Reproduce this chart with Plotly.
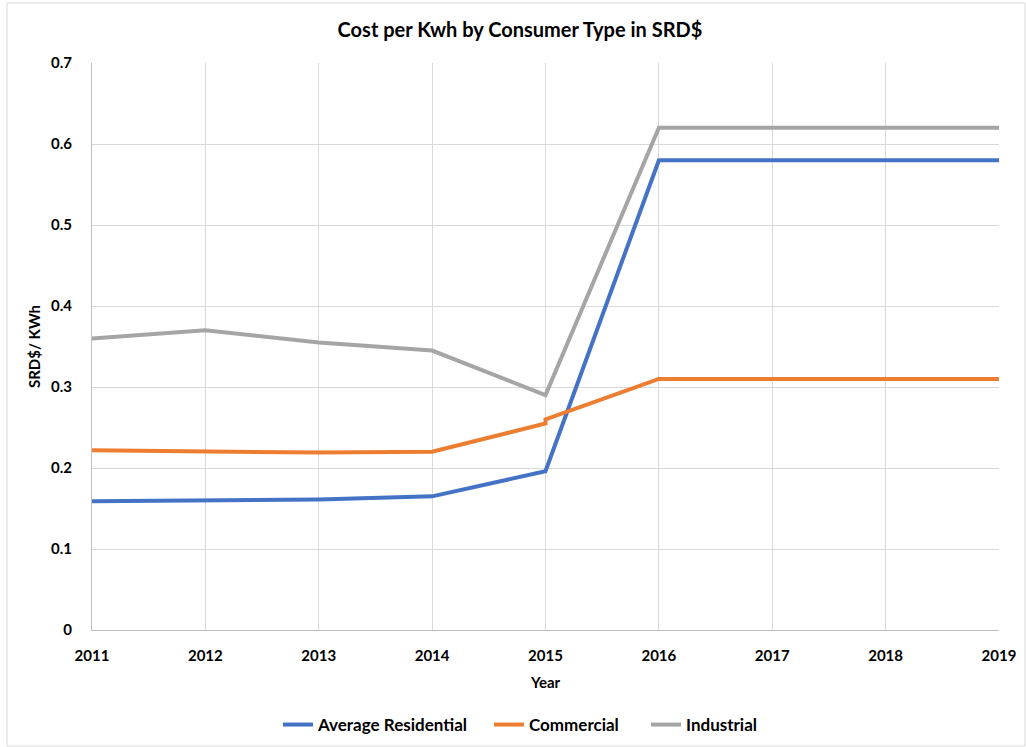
import plotly.graph_objects as go

years = [2011, 2012, 2013, 2014, 2015, 2016, 2017, 2018, 2019]
residential = [0.159, 0.160, 0.161, 0.165, 0.196, 0.58, 0.58, 0.58, 0.58]
# Commercial has two readings for 2015 (before/after the tariff change)
commercial_years = [2011, 2012, 2013, 2014, 2015, 2015, 2016, 2017, 2018, 2019]
commercial = [0.222, 0.220, 0.219, 0.220, 0.255, 0.260, 0.31, 0.31, 0.31, 0.31]
industrial = [0.36, 0.37, 0.355, 0.345, 0.29, 0.62, 0.62, 0.62, 0.62]
y_ticks = [0, 0.1, 0.2, 0.3, 0.4, 0.5, 0.6, 0.7]
y_tick_labels = ["0", "0.1", "0.2", "0.3", "0.4", "0.5", "0.6", "0.7"]

FONT = "Lato, Carlito, 'Open Sans', sans-serif"
PLOT_L, PLOT_W, PLOT_B, PLOT_H = 92, 907, 630, 567


def px_x(px):
    return (px - PLOT_L) / PLOT_W


fig = go.Figure()
fig.add_trace(go.Scatter(x=years, y=residential, mode="lines", name="<b>Average Residential</b>",
                         line=dict(color="#4472C4", width=4), legend="legend"))
fig.add_trace(go.Scatter(x=commercial_years, y=commercial, mode="lines", name="<b>Commercial</b>",
                         line=dict(color="#ED7D31", width=4), legend="legend2"))
fig.add_trace(go.Scatter(x=years, y=industrial, mode="lines", name="<b>Industrial</b>",
                         line=dict(color="#A5A5A5", width=4), legend="legend3"))

legend_common = dict(orientation="h", xanchor="left", y=-95 / PLOT_H, yanchor="middle",
                     font=dict(size=17, family=FONT), itemwidth=30,
                     bgcolor="rgba(0,0,0,0)", borderwidth=0)

fig.update_layout(
    width=1026, height=747,
    margin=dict(l=92, r=27, t=63, b=117, autoexpand=False),
    paper_bgcolor="white", plot_bgcolor="white",
    font=dict(family=FONT, color="#000000", size=15),
    title=dict(text="<b>Cost per Kwh by Consumer Type in SRD$</b>", x=520 / 1026, xanchor="center",
               y=1 - 30 / 747, yanchor="middle", font=dict(size=20, family=FONT)),
    showlegend=True,
    legend=dict(legend_common, x=px_x(283 - 5)),
    legend2=dict(legend_common, x=px_x(494 - 5)),
    legend3=dict(legend_common, x=px_x(651 - 5)),
    xaxis=dict(range=[2011, 2019], tickmode="array", tickvals=years,
               ticktext=[f"<b>{y}</b>" for y in years],
               showgrid=True, gridcolor="#D9D9D9", gridwidth=1,
               showline=True, linecolor="#BFBFBF", linewidth=1, zeroline=False,
               ticks="", ticklabelstandoff=12, automargin=False,
               title=dict(text="<b>Year</b>", standoff=14, font=dict(size=15))),
    yaxis=dict(range=[0, 0.7], tickmode="array", tickvals=y_ticks,
               ticktext=[f"<b>{t}</b>" for t in y_tick_labels],
               showgrid=True, gridcolor="#D9D9D9", gridwidth=1,
               showline=True, linecolor="#BFBFBF", linewidth=1, zeroline=False,
               ticks="", ticklabelstandoff=16, automargin=False,
               title=dict(text="<b>SRD$/ KWh</b>", standoff=6, font=dict(size=15))),
)

# light chart-area border
fig.add_shape(type="rect", xref="paper", yref="paper",
              x0=-85 / PLOT_W, x1=933 / PLOT_W, y0=-116 / PLOT_H, y1=627 / PLOT_H,
              line=dict(color="#D9D9D9", width=1), fillcolor="rgba(0,0,0,0)", layer="below")

fig.write_html("out.html")
